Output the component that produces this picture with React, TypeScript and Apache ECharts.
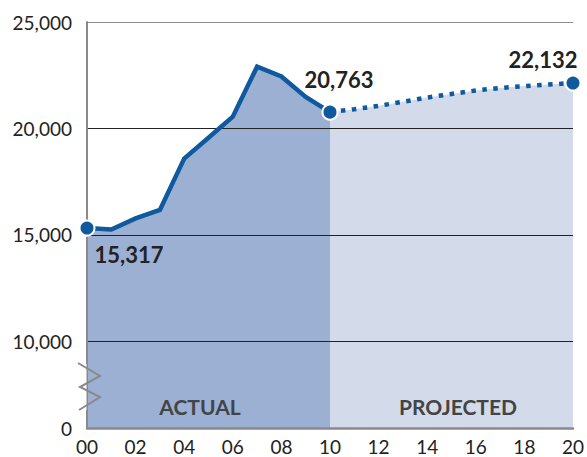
import React, { useEffect, useRef } from "react";
import * as echarts from "echarts";

const years = ["00","01","02","03","04","05","06","07","08","09","10","11","12","13","14","15","16","17","18","19","20"];
const actual = [15317, 15250, 15770, 16170, 18580, 19560, 20550, 22900, 22440, 21480, 20763];
const projected = [20763, 20900, 21060, 21250, 21450, 21620, 21780, 21900, 21990, 22060, 22132];
const highlighted: [string, number][] = [["00", 15317], ["10", 20763], ["20", 22132]];
const yTicks = [10000, 15000, 20000, 25000];
const yBreakMin = 5920;
const yMax = 25000;
const regionLabels = ["ACTUAL", "PROJECTED"];

const FONT = "Lato, 'Noto Sans', sans-serif";

export default function App() {
  const ref = useRef<HTMLDivElement>(null);
  useEffect(() => {
    document.body.style.margin = "0";
    if (!ref.current) return;
    const chart = echarts.init(ref.current, null, { renderer: "svg" });
    const nActual = actual.length;
    const actualFull = years.map((_, i) => (i < nActual ? actual[i] : null));
    const projFull = years.map((_, i) => (i >= nActual - 1 ? projected[i - (nActual - 1)] : null));
    const fmt = (v: number) => v.toLocaleString("en-US");
    const labelOffsets: [number, number][] = [[42, 26], [9, -33], [-30, -24]];

    chart.setOption({
      animation: false,
      backgroundColor: "#ffffff",
      grid: { left: 87, right: 14, top: 22, bottom: 29, containLabel: false },
      xAxis: {
        type: "category",
        data: years,
        boundaryGap: false,
        z: 2,
        axisLine: { show: true, lineStyle: { color: "#8a8a8a", width: 2.5 } },
        axisTick: { show: false },
        axisLabel: { interval: 1, color: "#222", fontSize: 19, lineHeight: 19, fontFamily: FONT, margin: 9 },
        splitLine: { show: false },
      },
      yAxis: {
        type: "value",
        min: yBreakMin,
        max: yMax,
        z: 2,
        axisLine: { show: true, lineStyle: { color: "#8a8a8a", width: 2 } },
        axisTick: { show: false, customValues: [yBreakMin, ...yTicks] },
        axisLabel: {
          customValues: [yBreakMin, ...yTicks],
          formatter: (v: number) => (v === yBreakMin ? "0" : fmt(v)),
          color: "#222",
          fontSize: 19,
          fontFamily: FONT,
          margin: 15,
        },
        splitLine: {
          show: true,
          lineStyle: { color: ["rgba(0,0,0,0)", "#222", "#222", "#222", "#8a8a8a"], width: 1 },
        },
      },
      series: [
        {
          type: "line",
          data: actualFull,
          z: 1,
          symbol: "none",
          lineStyle: { width: 0 },
          areaStyle: { color: "#9bb0d2", opacity: 1, origin: "start" },
        },
        {
          type: "line",
          data: projFull,
          z: 1,
          symbol: "none",
          lineStyle: { width: 0 },
          areaStyle: { color: "#d3dbea", opacity: 1, origin: "start" },
        },
        {
          type: "line",
          data: actualFull,
          z: 3,
          symbol: "none",
          lineStyle: { width: 4.5, color: "#0f5a9e", join: "miter" },
        },
        {
          type: "line",
          data: projFull,
          z: 3,
          symbol: "none",
          lineStyle: { width: 4.5, color: "#0f5a9e", type: [4.5, 6.5], cap: "butt" },
        },
        {
          type: "scatter",
          z: 4,
          symbol: "circle",
          symbolSize: 15,
          itemStyle: { color: "#0f5a9e", borderColor: "#ffffff", borderWidth: 2, opacity: 1 },
          data: highlighted.map((d, i) => ({
            value: d,
            label: {
              show: true,
              position: "inside",
              offset: labelOffsets[i],
              formatter: fmt(d[1]),
              color: "#222",
              fontSize: 22,
              fontWeight: "bold",
              fontFamily: FONT,
            },
          })),
        },
      ],
      graphic: [
        { type: "rect", shape: { x: 83, y: 364, width: 3.5, height: 46 }, style: { fill: "#ffffff" }, z: 10 },
        {
          type: "polyline",
          shape: { points: [[78, 363], [100, 376], [80, 387], [100, 397], [79, 410]] },
          style: { stroke: "#8a8a8a", lineWidth: 2, fill: null },
          z: 11,
        },
        {
          type: "text",
          x: 200, y: 406,
          style: { text: regionLabels[0], fill: "#444", fontSize: 21, fontWeight: "bold", fontFamily: FONT, textAlign: "center", textVerticalAlign: "middle" },
          z: 10,
        },
        {
          type: "text",
          x: 458, y: 406,
          style: { text: regionLabels[1], fill: "#444", fontSize: 21, fontWeight: "bold", fontFamily: FONT, textAlign: "center", textVerticalAlign: "middle" },
          z: 10,
        },
      ],
    });
    return () => chart.dispose();
  }, []);
  return <div ref={ref} style={{ position: "fixed", left: 0, top: 0, width: 587, height: 457 }} />;
}
